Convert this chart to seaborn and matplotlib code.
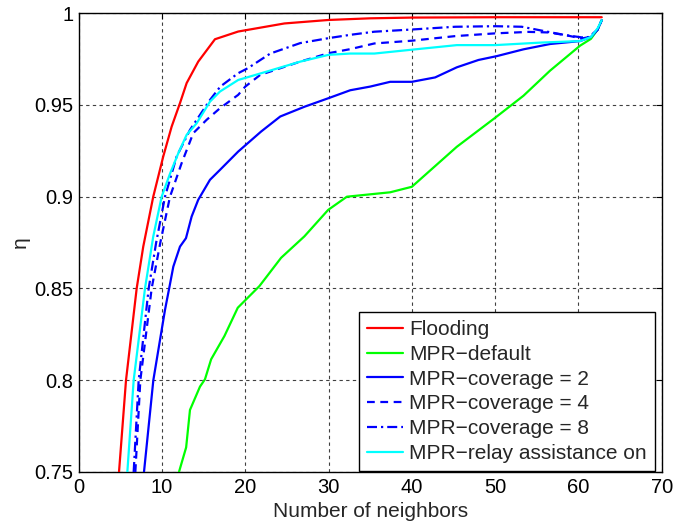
import matplotlib
matplotlib.use("Agg")
import matplotlib.pyplot as plt
import seaborn as sns

# Efficiency (eta) versus number of neighbors for each relaying scheme
flood_x = [4.84, 5.68, 6.96, 7.75, 8.95, 10.15, 11.16, 12.16, 12.96, 14.35, 16.36, 19.15, 24.7, 30, 35, 40, 50, 62.8]
flood_y = [0.75, 0.80, 0.85, 0.8728, 0.90, 0.9219, 0.9382, 0.951, 0.9619, 0.9736, 0.9858, 0.99, 0.9944, 0.9963,
           0.9972, 0.9976, 0.9978, 0.9978]

default_x = [12.04, 12.9, 13.36, 14.56, 15.16, 15.9, 17.5, 19.1, 21.7, 24.3, 27.1, 29.95, 32.2, 37.4, 40,
             45.4, 50, 53.4, 56.6, 60.2, 61.5, 62.3, 62.8]
default_y = [0.75, 0.7634, 0.7838, 0.7965, 0.8005, 0.8114, 0.8241, 0.8395, 0.8513, 0.8667, 0.8784, 0.8928, 0.90,
             0.9024, 0.9054, 0.9272, 0.943, 0.955, 0.9687, 0.9823, 0.986, 0.991, 0.9962]

cov2_x = [7.84, 8.96, 10.36, 10.86, 11.36, 12.16, 12.88, 13.56, 14.35, 15.76, 16.96, 19.15, 21.9, 24.2, 27.1, 30,
          32.6, 35, 37.4, 40, 42.8, 45.4, 48, 50.2, 53.4, 56.6, 60.2, 61.5, 62.3, 62.8]
cov2_y = [0.75, 0.80, 0.8383, 0.85, 0.8619, 0.8728, 0.8774, 0.8892, 0.8983, 0.9092, 0.9146, 0.9246, 0.9355,
          0.9437, 0.949, 0.9537, 0.958, 0.960, 0.9626, 0.9626, 0.965, 0.9705, 0.9745, 0.9766, 0.9803, 0.9832,
          0.9848, 0.987, 0.991, 0.9962]

cov4_x = [6.8, 7.4, 8.76, 9.8, 10.96, 12.36, 13.75, 15.36, 16.96, 19.15, 20, 21.8, 26.6, 30, 32.6, 35.5, 40,
          45.2, 50, 54, 56.4, 58.5, 60.4, 61.3, 62.3, 62.8]
cov4_y = [0.75, 0.80, 0.85, 0.875, 0.90, 0.9183, 0.9346, 0.9419, 0.9482, 0.9555, 0.96, 0.9664, 0.9736, 0.9782,
          0.9804, 0.9835, 0.985, 0.9875, 0.989, 0.9898, 0.9895, 0.988, 0.9862, 0.987, 0.991, 0.9962]

cov8_x = [6.6, 7.2, 8.4, 9.3, 10.36, 11.76, 13.36, 15.76, 17, 19.15, 20.3, 23, 26.6, 30, 32.6, 35.5, 40, 45.2,
          50, 53.2, 56.4, 58.5, 60.4, 61.3, 62.3, 62.8]
cov8_y = [0.75, 0.80, 0.85, 0.875, 0.90, 0.9219, 0.9364, 0.9527, 0.96, 0.9673, 0.970, 0.978, 0.9837, 0.9864,
          0.9882, 0.9899, 0.9911, 0.9926, 0.9929, 0.9926, 0.9898, 0.988, 0.9868, 0.987, 0.991, 0.9962]

relay_x = [5.84, 6.6, 7.96, 8.95, 9.96, 10.96, 11.96, 12.96, 14.16, 15.76, 16.96, 19.15, 22.6, 26.6, 30, 32.6,
           35.5, 40, 45.4, 50, 55.6, 60.2, 61.5, 62.3, 62.8]
relay_y = [0.75, 0.80, 0.85, 0.8783, 0.90, 0.9125, 0.9237, 0.9337, 0.94, 0.9518, 0.9573, 0.9636, 0.9682, 0.9736,
           0.9773, 0.978, 0.978, 0.9801, 0.9826, 0.9826, 0.984, 0.9848, 0.987, 0.9917, 0.9962]

labels = ["Flooding", "MPR\u2212default", "MPR\u2212coverage = 2", "MPR\u2212coverage = 4",
          "MPR\u2212coverage = 8", "MPR\u2212relay assistance on"]
x_ticks = [0, 10, 20, 30, 40, 50, 60, 70]
y_ticks = [0.75, 0.8, 0.85, 0.9, 0.95, 1.0]
y_tick_labels = ["0.75", "0.8", "0.85", "0.9", "0.95", "1"]

sns.set_theme(style="white")
plt.rcParams["font.family"] = ["Liberation Sans", "DejaVu Sans"]
plt.rcParams["axes.unicode_minus"] = True

fig = plt.figure(figsize=(6.75, 5.27), dpi=100)
ax = fig.add_axes([0.1166, 0.1044, 0.8637, 0.8706])

series = [
    (flood_x, flood_y, "#ff0000", "-"),
    (default_x, default_y, "#00ff00", "-"),
    (cov2_x, cov2_y, "#0000ff", "-"),
    (cov4_x, cov4_y, "#0000ff", (0, (3.5, 2.5))),
    (cov8_x, cov8_y, "#0000ff", (0, (4.5, 1.8, 1.0, 1.8))),
    (relay_x, relay_y, "#00ffff", "-"),
]
for (xs, ys, col, ls), lab in zip(series, labels):
    sns.lineplot(x=xs, y=ys, ax=ax, color=col, linestyle=ls, linewidth=1.6,
                 label=lab, estimator=None, sort=False, zorder=3)

ax.set_xlim(0, 70)
ax.set_ylim(0.75, 1.0)
ax.set_xticks(x_ticks)
ax.set_xticklabels([str(t) for t in x_ticks])
ax.set_yticks(y_ticks)
ax.set_yticklabels(y_tick_labels)

ax.grid(True, color="0.25", linestyle=(0, (3, 3)), linewidth=0.8)
ax.tick_params(direction="in", length=4, width=0.8, top=True, right=True,
               labelsize=14.5, colors="black", pad=4)
for s in ax.spines.values():
    s.set_color("black")
    s.set_linewidth(1.0)

ax.set_xlabel("Number of neighbors", fontsize=15, labelpad=4)
ax.set_ylabel("\u03b7", fontsize=15, labelpad=3)

leg = ax.legend(loc="lower right", bbox_to_anchor=(0.9885, 0.002), borderaxespad=0,
                fontsize=15, frameon=True, fancybox=False, framealpha=1,
                edgecolor="black", handlelength=1.75, handletextpad=0.3,
                labelspacing=0.28, borderpad=0.38)
leg.get_frame().set_linewidth(1.0)

fig.savefig("out.png", dpi=100)
